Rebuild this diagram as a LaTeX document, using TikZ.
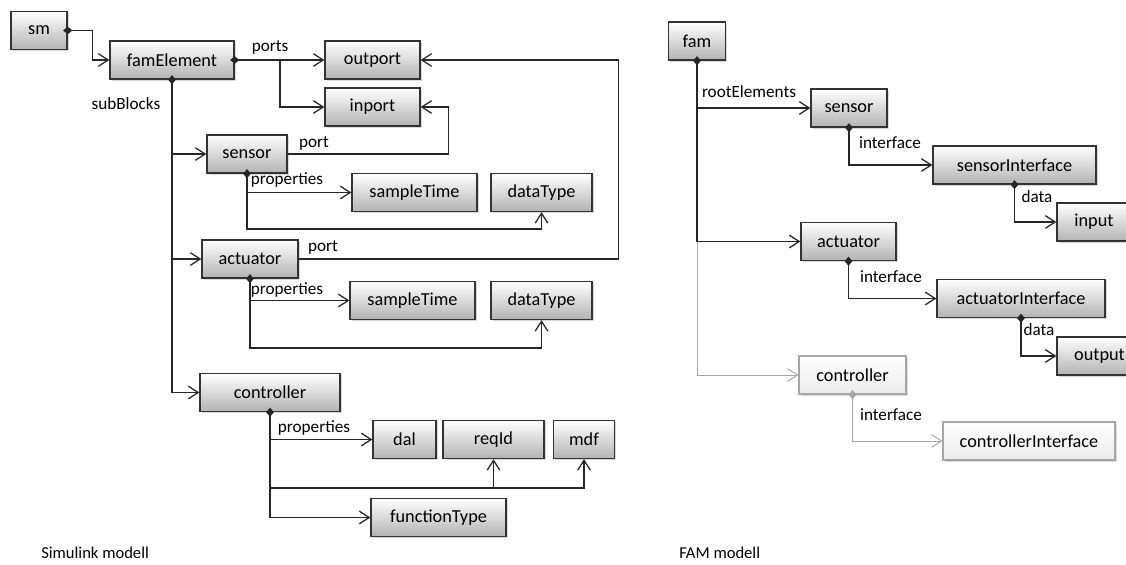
\documentclass[tikz,border=0pt]{standalone}
\usepackage{fontspec}
\setmainfont{Carlito}
\usetikzlibrary{arrows.meta,shadows}

\tikzset{
  block/.style={draw=black!80, line width=0.9pt, top color=white, bottom color=black!30,
    drop shadow={shadow xshift=1.2pt, shadow yshift=-1.2pt, opacity=0.3},
    minimum height=0.95cm, inner sep=0pt, font=\fontsize{13}{15}\selectfont},
  ghost/.style={block, draw=black!35, top color=white, bottom color=black!8,
    drop shadow={shadow xshift=1pt, shadow yshift=-1pt, opacity=0.15}},
  link/.style={draw=black!85, line width=0.9pt, -{Straight Barb[length=7pt,width=9pt]}},
  has/.style={link, {Diamond[length=6.5pt,width=5.5pt]}-{Straight Barb[length=7pt,width=9pt]},
    shorten <=-3.2pt},
  faded/.style={draw=black!35, line width=0.7pt},
  role/.style={font=\fontsize{12.2}{14}\selectfont, inner sep=0pt},
  title/.style={font=\fontsize{11.8}{14}\selectfont, inner sep=0pt, anchor=west}
}

\begin{document}
\begin{tikzpicture}[x=0.025cm, y=-0.025cm]
  \useasboundingbox (0,0) rectangle (1126,565);

  \node[block, minimum width=1.4cm] (sm) at (39,30.5) {sm};
  \node[block, minimum width=3.1cm] (elem) at (172,60) {famElement};
  \node[block, minimum width=2.375cm] (outport) at (372.5,60) {outport};
  \node[block, minimum width=2.375cm] (inport) at (372.5,107) {inport};
  \node[block, minimum width=2cm] (sensor) at (247,154) {sensor};
  \node[block, minimum width=3.125cm] (stSensor) at (414.5,192.5) {sampleTime};
  \node[block, minimum width=2.525cm] (dtSensor) at (541.5,192.5) {dataType};
  \node[block, minimum width=2.4cm] (actuator) at (250,259) {actuator};
  \node[block, minimum width=3.125cm] (stActuator) at (412.5,300.5) {sampleTime};
  \node[block, minimum width=2.525cm] (dtActuator) at (541.5,300.5) {dataType};
  \node[block, minimum width=3.5cm] (controller) at (270,392.5) {controller};
  \node[block, minimum width=1.575cm] (dal) at (404.5,439.5) {dal};
  \node[block, minimum width=2.525cm] (reqId) at (493.5,439.5) {reqId};
  \node[block, minimum width=1.525cm] (mdf) at (584,439.5) {mdf};
  \node[block, minimum width=3.375cm] (functionType) at (438.5,517.5) {functionType};

  \node[block, minimum width=1.425cm] (fam) at (697,41) {fam};
  \node[block, minimum width=1.9cm] (famSensor) at (849,108) {sensor};
  \node[block, minimum width=4.075cm] (sensorInterface) at (1014.5,165) {sensorInterface};
  \node[block, minimum width=1.85cm] (input) at (1094,222) {input};
  \node[block, minimum width=2.375cm] (famActuator) at (848.5,241.5) {actuator};
  \node[block, minimum width=4.2cm] (actuatorInterface) at (1021,298.5) {actuatorInterface};
  \node[block, minimum width=2.125cm] (output) at (1099.5,356) {output};
  \node[ghost, minimum width=2.675cm] (famController) at (852.5,375) {controller};
  \node[ghost, minimum width=4.3cm] (controllerInterface) at (1029,441) {controllerInterface};

  \coordinate (portsJoin) at (280,60);
  \coordinate (ctrlJoin) at (270,488);

  \draw[has] (sm.east) -- ++(25,0) |- (elem.west);
  \draw[has] (elem.east) -- (outport.west);
  \draw[link] (portsJoin) |- (inport.west);
  \draw[has] (elem.south) |- (controller.west);
  \draw[link] (sensor.west -| elem.south) -- (sensor.west);
  \draw[link] (actuator.west -| elem.south) -- (actuator.west);
  \draw[link] (sensor.east) -- ++(161,0) |- (inport.east);
  \draw[link] (actuator.east) -- ++(320,0) |- (outport.east);
  \draw[has] (sensor.south) |- (stSensor.west);
  \draw[link] (stSensor.west -| sensor.south) -- ++(0,36.5) -| (dtSensor.south);
  \draw[has] (actuator.south) |- (stActuator.west);
  \draw[link] (stActuator.west -| actuator.south) -- ++(0,47.5) -| (dtActuator.south);
  \draw[has] (controller.south) |- (dal.west);
  \draw[link] (dal.west -| controller.south) |- (functionType.west);
  \draw[link] (ctrlJoin) -| (reqId.south);
  \draw[link] (ctrlJoin) -| (mdf.south);

  \draw[has] (fam.south) |- (famActuator.west);
  \draw[link] (famSensor.west -| fam.south) -- (famSensor.west);
  \draw[link, faded] (famActuator.west -| fam.south) |- (famController.west);
  \draw[has] (famSensor.south) |- (sensorInterface.west);
  \draw[has] (sensorInterface.south) |- (input.west);
  \draw[has] (famActuator.south) |- (actuatorInterface.west);
  \draw[has] (actuatorInterface.south) |- (output.west);
  \draw[has, faded] (famController.south) |- (controllerInterface.west);

  \node[role] (lblPorts) at (270,47) {ports};
  \node[role] (lblSubBlocks) at (126,104) {subBlocks};
  \node[role] (lblSensorPort) at (314,143) {port};
  \node[role] (lblSensorProps) at (287,180) {properties};
  \node[role] (lblActuatorPort) at (323,247) {port};
  \node[role] (lblActuatorProps) at (287,290) {properties};
  \node[role] (lblCtrlProps) at (314,428) {properties};
  \node[role] (lblRoot) at (749,92) {rootElements};
  \node[role] (lblSensorIf) at (890,143) {interface};
  \node[role] (lblInput) at (1037,197) {data};
  \node[role] (lblActuatorIf) at (891,277) {interface};
  \node[role] (lblOutput) at (1039,330) {data};
  \node[role] (lblCtrlIf) at (891,415) {interface};

  \node[title] (simTitle) at (41,553) {Simulink modell};
  \node[title] (famTitle) at (679,553) {FAM modell};
\end{tikzpicture}
\end{document}
